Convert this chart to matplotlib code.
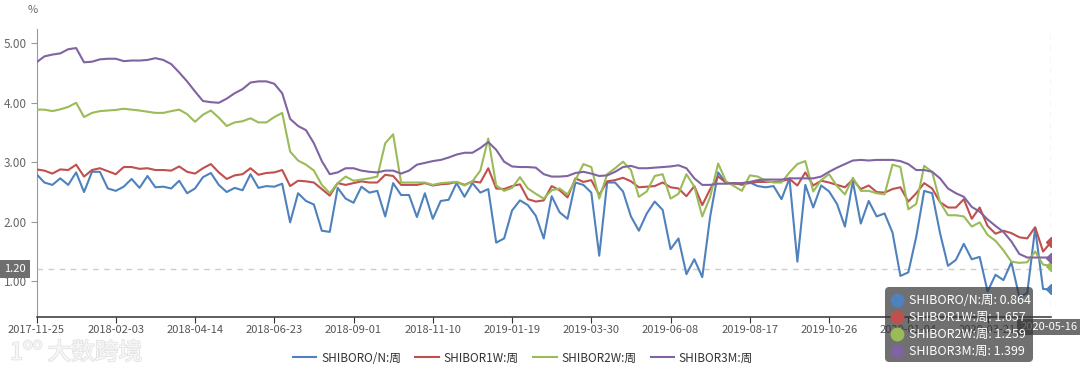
import pandas as pd
import matplotlib
matplotlib.use("Agg")
import matplotlib.pyplot as plt
from matplotlib.lines import Line2D
from matplotlib.patches import FancyBboxPatch
import matplotlib.patheffects as pe

plt.rcParams["font.family"] = ["Noto Sans CJK SC", "DejaVu Sans"]

# weekly dates, the Spring Festival week (2020-01-25) is missing in the source
dates = pd.date_range("2017-11-25", "2020-05-16", freq="7D")
dates = [d.strftime("%Y-%m-%d") for d in dates if d.strftime("%Y-%m-%d") != "2020-01-25"]

series_names = ["SHIBORO/N:周", "SHIBOR1W:周", "SHIBOR2W:周", "SHIBOR3M:周"]
colors = ["#4f81bd", "#c0504d", "#9bbb59", "#8064a2"]

shibor_on = [
    2.80, 2.66, 2.62, 2.73, 2.62, 2.83, 2.50, 2.84, 2.84, 2.56, 2.52, 2.59, 2.72, 2.57, 2.77, 2.58, 2.59, 2.56, 2.69,
    2.48, 2.56, 2.75, 2.82, 2.62, 2.50, 2.57, 2.53, 2.80, 2.57, 2.60, 2.59, 2.64, 1.99, 2.48, 2.35, 2.29, 1.85,
    1.83, 2.57, 2.39, 2.32, 2.59, 2.49, 2.52, 2.09, 2.65, 2.45, 2.45, 2.08, 2.48, 2.05, 2.35, 2.37, 2.65, 2.42,
    2.65, 2.49, 2.55, 1.65, 1.72, 2.19, 2.36, 2.28, 2.10, 1.72, 2.43, 2.16, 2.05, 2.66, 2.62, 2.49, 1.43, 2.66, 2.66,
    2.51, 2.09, 1.85, 2.14, 2.34, 2.20, 1.54, 1.72, 1.12, 1.37, 1.07, 2.09, 2.83, 2.65, 2.65, 2.62, 2.66, 2.60,
    2.58, 2.60, 2.38, 2.73, 1.33, 2.62, 2.24, 2.61, 2.51, 2.30, 1.92, 2.68, 1.97, 2.35, 2.09, 2.14, 1.82, 1.09,
    1.15, 1.75, 2.52, 2.48, 1.81, 1.26, 1.36, 1.63, 1.37, 1.41, 0.83, 1.11, 1.02, 1.32, 0.74, 0.80, 1.89, 0.87, 0.864,
]
shibor_1w = [
    2.88, 2.86, 2.81, 2.88, 2.87, 2.96, 2.76, 2.87, 2.90, 2.85, 2.80, 2.92, 2.92, 2.89, 2.90, 2.87, 2.87, 2.86, 2.93,
    2.84, 2.81, 2.90, 2.97, 2.83, 2.72, 2.78, 2.80, 2.90, 2.79, 2.82, 2.83, 2.87, 2.60, 2.69, 2.68, 2.66, 2.55,
    2.44, 2.65, 2.62, 2.65, 2.68, 2.66, 2.66, 2.79, 2.77, 2.62, 2.62, 2.62, 2.65, 2.61, 2.63, 2.64, 2.67, 2.62,
    2.68, 2.66, 2.90, 2.56, 2.55, 2.60, 2.63, 2.38, 2.34, 2.36, 2.60, 2.53, 2.41, 2.73, 2.67, 2.70, 2.45, 2.68, 2.70,
    2.74, 2.68, 2.58, 2.59, 2.60, 2.66, 2.58, 2.56, 2.43, 2.60, 2.28, 2.55, 2.76, 2.66, 2.64, 2.64, 2.65, 2.67,
    2.67, 2.67, 2.68, 2.72, 2.61, 2.83, 2.61, 2.69, 2.66, 2.62, 2.58, 2.71, 2.55, 2.61, 2.50, 2.49, 2.55, 2.58,
    2.34, 2.48, 2.65, 2.56, 2.33, 2.24, 2.24, 2.38, 2.05, 2.24, 1.93, 1.80, 1.85, 1.81, 1.74, 1.72, 1.91, 1.50, 1.657,
]
shibor_2w = [
    3.885, 3.885, 3.86, 3.89, 3.93, 4.00, 3.76, 3.83, 3.86, 3.87, 3.88, 3.90, 3.885, 3.87, 3.85, 3.83, 3.83, 3.86, 3.885,
    3.81, 3.68, 3.80, 3.87, 3.75, 3.61, 3.67, 3.69, 3.74, 3.67, 3.67, 3.76, 3.83, 3.18, 3.03, 2.96, 2.86, 2.62,
    2.48, 2.65, 2.76, 2.69, 2.71, 2.73, 2.76, 3.32, 3.47, 2.66, 2.66, 2.66, 2.66, 2.62, 2.65, 2.66, 2.67, 2.61,
    2.68, 2.86, 3.40, 2.61, 2.52, 2.57, 2.75, 2.56, 2.47, 2.39, 2.53, 2.56, 2.46, 2.70, 2.97, 2.92, 2.39, 2.80, 2.90,
    3.01, 2.87, 2.42, 2.51, 2.77, 2.80, 2.39, 2.47, 2.80, 2.59, 2.09, 2.42, 2.98, 2.68, 2.60, 2.52, 2.78, 2.76,
    2.69, 2.66, 2.66, 2.83, 2.97, 3.02, 2.51, 2.70, 2.80, 2.60, 2.46, 2.74, 2.52, 2.52, 2.48, 2.46, 2.96, 2.92,
    2.21, 2.30, 2.94, 2.84, 2.33, 2.11, 2.11, 2.09, 1.92, 1.99, 1.78, 1.68, 1.52, 1.33, 1.31, 1.32, 1.50, 1.28, 1.259,
]
shibor_3m = [
    4.68, 4.78, 4.81, 4.83, 4.90, 4.92, 4.68, 4.69, 4.73, 4.74, 4.74, 4.70, 4.71, 4.71, 4.72, 4.75, 4.72, 4.65, 4.51,
    4.36, 4.19, 4.03, 4.01, 4.00, 4.07, 4.16, 4.23, 4.34, 4.36, 4.36, 4.32, 4.16, 3.73, 3.61, 3.54, 3.32, 3.02,
    2.80, 2.83, 2.90, 2.90, 2.86, 2.84, 2.83, 2.86, 2.86, 2.81, 2.86, 2.96, 2.99, 3.02, 3.04, 3.08, 3.13, 3.16,
    3.16, 3.24, 3.34, 3.21, 3.01, 2.93, 2.92, 2.92, 2.91, 2.80, 2.76, 2.76, 2.77, 2.82, 2.84, 2.81, 2.77, 2.78, 2.84,
    2.92, 2.94, 2.90, 2.90, 2.91, 2.92, 2.93, 2.95, 2.90, 2.73, 2.62, 2.62, 2.64, 2.64, 2.65, 2.65, 2.67, 2.70,
    2.71, 2.71, 2.71, 2.73, 2.73, 2.73, 2.73, 2.76, 2.84, 2.91, 2.97, 3.03, 3.04, 3.03, 3.04, 3.04, 3.04, 3.02,
    2.97, 2.87, 2.87, 2.84, 2.73, 2.56, 2.48, 2.42, 2.25, 2.17, 2.04, 1.93, 1.83, 1.67, 1.46, 1.40, 1.40, 1.40, 1.399,
]

y_ticks = [1.0, 2.0, 3.0, 4.0, 5.0]
pointer_value = 1.20


def main():
    W, H = 1080, 375
    fig = plt.figure(figsize=(W / 100, H / 100), dpi=100)
    ax = fig.add_axes([36.5 / W, 1 - 317 / H, (1051 - 36.5) / W, 288 / H])

    all_series = [shibor_on, shibor_1w, shibor_2w, shibor_3m]
    x = list(range(len(dates)))
    for vals, name, c in zip(all_series, series_names, colors):
        ax.plot(x, vals, color=c, lw=1.5, label=name, zorder=3)
        ax.plot([x[-1]], [vals[-1]], marker="D", ms=5, color=c, zorder=4)

    ax.set_xlim(0, len(dates) - 1)
    ax.set_ylim(0.40, 5.24)

    for s in ["top", "right"]:
        ax.spines[s].set_visible(False)
    ax.spines["left"].set_color("#999999")
    ax.spines["bottom"].set_color("#333333")
    ax.spines["bottom"].set_linewidth(1.1)

    ax.set_yticks(y_ticks)
    ax.set_yticklabels([f"{v:.2f}" for v in y_ticks])
    ax.tick_params(axis="y", length=4, color="#999999", labelcolor="#666666",
                   labelsize=8.5, pad=3)

    xt = list(range(0, len(dates), 10))
    ax.set_xticks(xt)
    ax.set_xticklabels([dates[i] for i in xt])
    ax.tick_params(axis="x", length=4, color="#333333", labelcolor="#555555",
                   labelsize=8, pad=2)

    # axis pointer (crosshair)
    ax.axhline(pointer_value, color="#cccccc", lw=1, ls=(0, (4, 4)), zorder=1)
    ax.axvline(len(dates) - 1, color="#cccccc", lw=1, ls=(0, (4, 4)), zorder=1)

    fig.text(33 / W, 1 - 10 / H, "%", ha="center", va="center",
             fontsize=8, color="#666666")

    fig.text(15 / W, 1 - 269 / H, f"{pointer_value:.2f}", ha="center", va="center",
             fontsize=8, color="white",
             bbox=dict(boxstyle="square,pad=0.35", fc="#6e6e6e", ec="none"))
    fig.text(1049 / W, 1 - 327 / H, dates[-1], ha="center", va="center",
             fontsize=8, color="white", zorder=5,
             bbox=dict(boxstyle="square,pad=0.3", fc="#6e6e6e", ec="none"))

    # tooltip
    box = FancyBboxPatch((885 / W, 1 - 362 / H), 148 / W, 75 / H,
                         boxstyle="round,pad=0,rounding_size=0.004",
                         mutation_aspect=W / H, transform=fig.transFigure,
                         fc=(0.2, 0.2, 0.2, 0.7), ec="none", zorder=10)
    fig.add_artist(box)
    rows = [300, 317, 334, 351]
    for vals, name, c, ry in zip(all_series, series_names, colors, rows):
        fig.add_artist(Line2D([897 / W], [1 - ry / H], marker="o", ms=9,
                              color=c, transform=fig.transFigure, zorder=11))
        fig.text(909 / W, 1 - ry / H, f"{name}: {vals[-1]:g}", ha="left",
                 va="center", fontsize=9, color="white", zorder=11)

    # legend
    fig.legend(loc="center", bbox_to_anchor=(523 / W, 1 - 358 / H), ncol=4,
               frameon=False, fontsize=8.5, handlelength=2.0,
               columnspacing=1.2, handletextpad=0.4, labelcolor="#333333")

    # watermark
    wm = fig.text(10 / W, 1 - 353 / H, "1ºº 大数跨境", ha="left", va="center",
                  fontsize=17, color="#f7f7f7")
    wm.set_path_effects([pe.Stroke(linewidth=1.2, foreground="#e3e3e3"), pe.Normal()])

    fig.savefig("out.png", dpi=100)
    return 0


if __name__ == "__main__":
    main()
